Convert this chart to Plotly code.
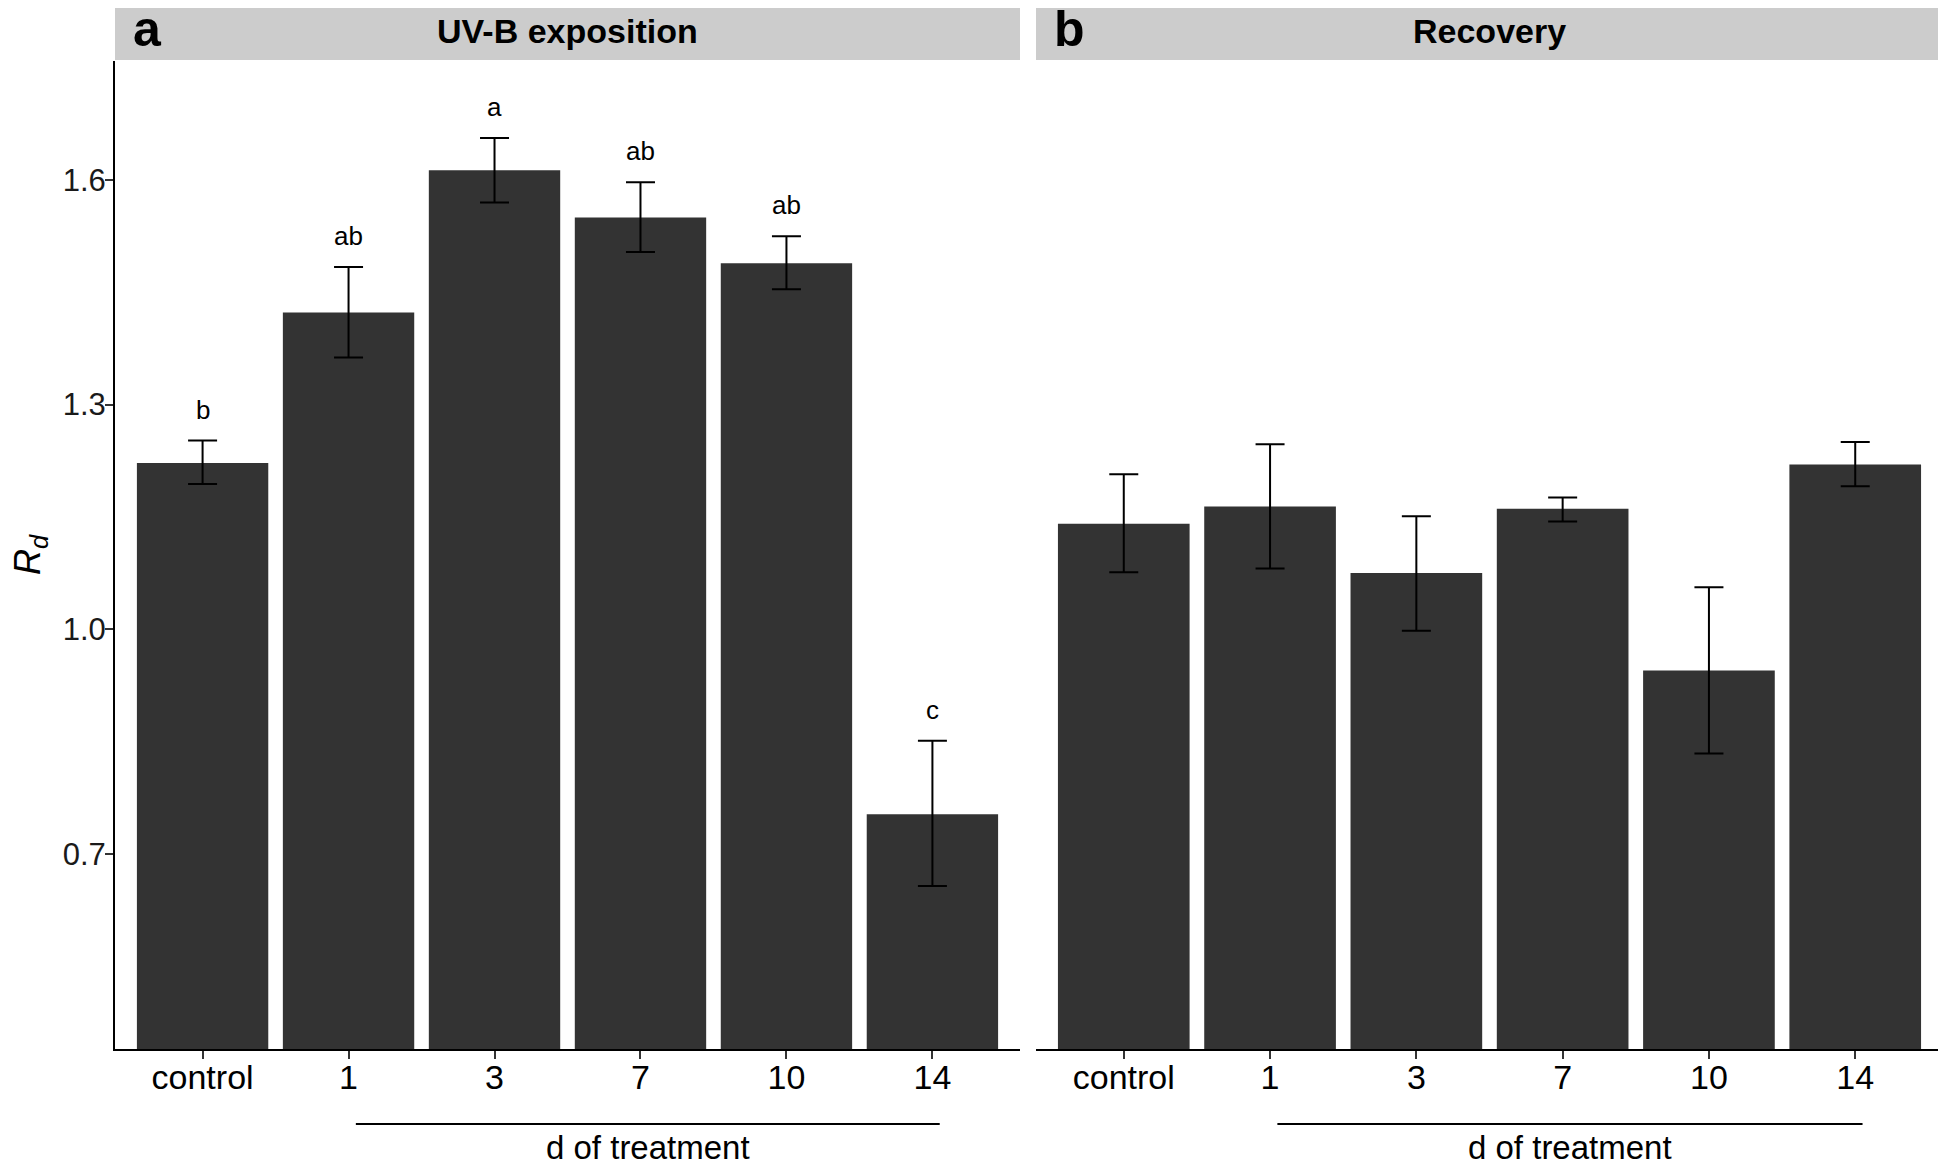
import plotly.graph_objects as go

categories = ["control", "1", "3", "7", "10", "14"]

uvb_values = [1.222, 1.423, 1.613, 1.550, 1.489, 0.753]
uvb_upper = [1.252, 1.484, 1.656, 1.597, 1.525, 0.851]
uvb_lower = [1.194, 1.363, 1.570, 1.504, 1.454, 0.657]
uvb_letters = ["b", "ab", "a", "ab", "ab", "c"]

rec_values = [1.141, 1.164, 1.075, 1.161, 0.945, 1.220]
rec_upper = [1.207, 1.247, 1.151, 1.176, 1.056, 1.250]
rec_lower = [1.076, 1.081, 0.998, 1.144, 0.834, 1.191]

panel_titles = ["UV-B exposition", "Recovery"]
panel_tags = ["a", "b"]
y_ticks = [0.7, 1.0, 1.3, 1.6]

# page has an 8px body margin; work in page px and convert
OFF = 8
W, H = 1946 - OFF, 1164 - OFF
ML, MR, MT, MB = 115 - OFF, 3, 61 - OFF, 115
plot_h = H - MT - MB
FONT = "Liberation Sans, Arial, sans-serif"
BAR = "#333333"

def py(page_px):
    return (H - MB - (page_px - OFF)) / plot_h

fig = go.Figure()

def add_panel(vals, up, lo, xa, ya):
    fig.add_trace(go.Bar(
        x=list(range(len(categories))), y=vals, width=0.9,
        marker=dict(color=BAR, line=dict(width=0)),
        error_y=dict(type="data", symmetric=False,
                     array=[u - v for u, v in zip(up, vals)],
                     arrayminus=[v - l for l, v in zip(lo, vals)],
                     color="black", thickness=2, width=14.5),
        xaxis=xa, yaxis=ya, showlegend=False, hoverinfo="skip"))

add_panel(uvb_values, uvb_upper, uvb_lower, "x", "y")
add_panel(rec_values, rec_upper, rec_lower, "x2", "y2")

d1 = (1020 - 115) / (1943 - 115)
d2 = (1036 - 115) / (1943 - 115)

xcommon = dict(range=[-0.6, 5.6], tickmode="array", tickvals=list(range(6)),
               ticktext=categories, ticks="outside", ticklen=8, tickwidth=2,
               tickcolor="#333333", showline=True, linecolor="black", linewidth=2,
               showgrid=False, zeroline=False, ticklabelstandoff=-11,
               tickfont=dict(family=FONT, size=34, color="black"), fixedrange=True)
yrange = [0.4393, 1.759]
fig.update_layout(
    width=W, height=H,
    margin=dict(l=ML, r=MR, t=MT, b=MB),
    paper_bgcolor="white", plot_bgcolor="white",
    bargap=0.1,
    xaxis=dict(domain=[0, d1], **xcommon),
    xaxis2=dict(domain=[d2, 1], anchor="y2", **xcommon),
    yaxis=dict(range=yrange, tickvals=y_ticks, ticktext=["0.7", "1.0", "1.3", "1.6"],
               ticks="outside", ticklen=8, tickwidth=2, tickcolor="#333333",
               showline=True, linecolor="black", linewidth=2, showgrid=False,
               zeroline=False, ticklabelstandoff=-7,
               tickfont=dict(family=FONT, size=31, color="#1a1a1a")),
    yaxis2=dict(range=yrange, anchor="x2", showticklabels=False, ticks="",
                showline=False, showgrid=False, zeroline=False),
)

# strips
for i, (x0, x1) in enumerate([(0, d1), (d2, 1)]):
    fig.add_shape(type="rect", xref="paper", yref="paper", x0=x0, x1=x1,
                  y0=py(60), y1=py(1), fillcolor="#cccccc", line=dict(width=0),
                  layer="below")
    fig.add_annotation(xref="paper", yref="paper", x=(x0 + x1) / 2, y=py(31),
                       text="<b>" + panel_titles[i] + "</b>", showarrow=False,
                       font=dict(family=FONT, size=34, color="black"),
                       xanchor="center", yanchor="middle")
    fig.add_annotation(xref="paper", yref="paper", x=x0, xshift=16, y=py(29),
                       text="<b>" + panel_tags[i] + "</b>", showarrow=False,
                       font=dict(family=FONT, size=50, color="black"),
                       xanchor="left", yanchor="middle")
    # x-axis title and bracket line
    xr = ["x", "x2"][i]
    fig.add_shape(type="line", xref=xr, yref="paper", x0=1.05, x1=5.05,
                  y0=py(1124), y1=py(1124), line=dict(color="black", width=2))
    fig.add_annotation(xref=xr, yref="paper", x=3.05, y=py(1147),
                       text="d of treatment", showarrow=False,
                       font=dict(family=FONT, size=33, color="black"),
                       xanchor="center", yanchor="middle")

# significance letters
for i, (u, t) in enumerate(zip(uvb_upper, uvb_letters)):
    fig.add_annotation(x=i, y=u, xref="x", yref="y", text=t, showarrow=False,
                       yanchor="bottom", yshift=14,
                       font=dict(family=FONT, size=26, color="black"))

# y axis title
fig.add_annotation(xref="paper", yref="paper", x=-(ML - 22) / (W - ML - MR), y=py(555),
                   text="<i>R</i><sub><i>d</i></sub>", showarrow=False, textangle=-90,
                   font=dict(family=FONT, size=36, color="black"),
                   xanchor="center", yanchor="middle")

fig.write_html("out.html")
